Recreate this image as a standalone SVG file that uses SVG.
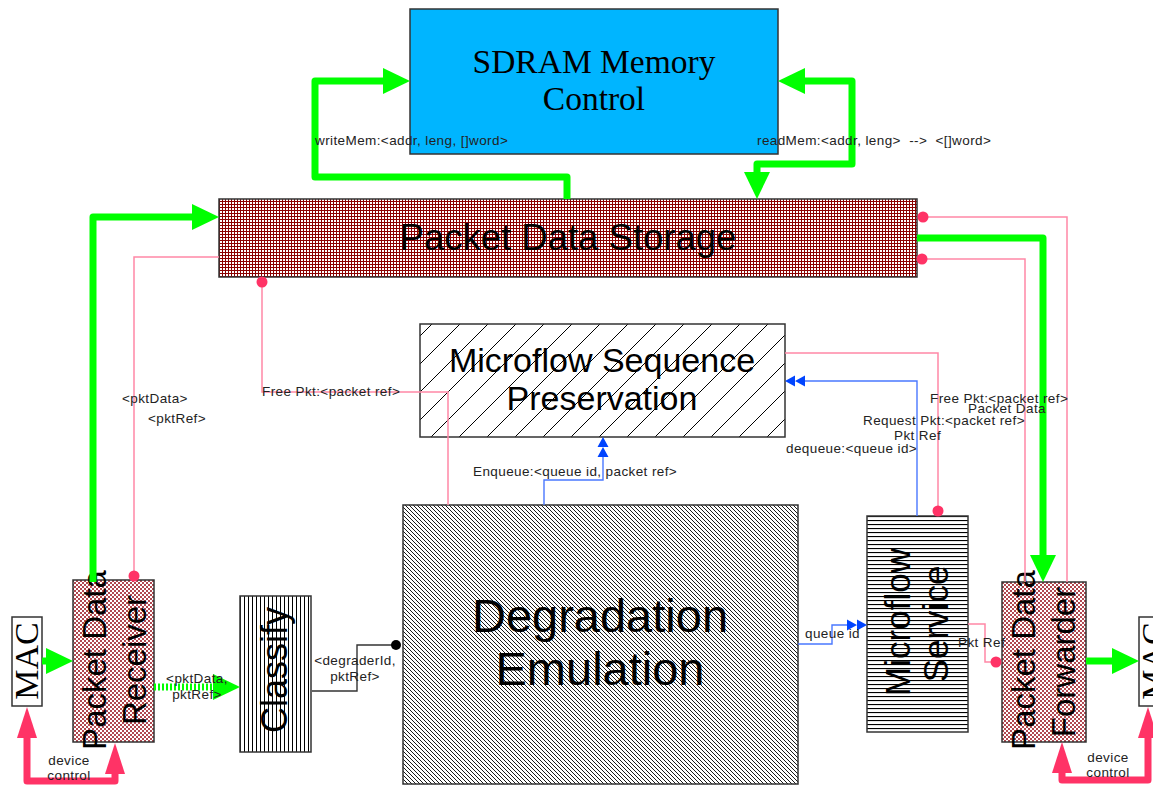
<svg xmlns="http://www.w3.org/2000/svg" width="1153" height="786" viewBox="0 0 1153 786">
<style>
.box{stroke:#333;stroke-width:1.5}
.nt{font-family:"Liberation Sans",Arial,sans-serif;fill:#000}
.st{font-family:"Liberation Serif","Times New Roman",serif;fill:#000}
.lbl{font-family:"Liberation Sans",Arial,sans-serif;font-size:13.5px;letter-spacing:0.4px;fill:#222}
.g{fill:none;stroke:#00ff00;stroke-width:7;stroke-linejoin:round}
.pk{fill:none;stroke:#ff88a6;stroke-width:1.5}
.dot{fill:#ff3366}
.bl{fill:none;stroke:#4a78ff;stroke-width:1.4}
.dc{fill:none;stroke:#ff3366;stroke-width:7;stroke-linejoin:round}
</style>
<defs>
<pattern id="pGrid" width="3" height="3" patternUnits="userSpaceOnUse">
<rect width="3" height="3" fill="#fff"/>
<path d="M0,0.5H3M0.5,0V3" stroke="#8b0000" stroke-width="1"/>
</pattern>
<pattern id="pCheck" width="4" height="4" patternUnits="userSpaceOnUse">
<rect width="4" height="4" fill="#fff"/>
<rect width="2" height="2" fill="#b04850"/>
<rect x="2" y="2" width="2" height="2" fill="#b04850"/>
</pattern>
<pattern id="pDiag" width="28" height="28" patternUnits="userSpaceOnUse">
<rect width="28" height="28" fill="#fff"/>
<path d="M0,28L28,0M-7,7L7,-7M21,35L35,21" stroke="#000" stroke-width="1"/>
</pattern>
<pattern id="pDense" width="4" height="4" patternUnits="userSpaceOnUse">
<rect width="4" height="4" fill="#fff"/>
<path d="M0,0L4,4M-1,3L1,5M3,-1L5,1" stroke="#000" stroke-width="0.9"/>
</pattern>
<pattern id="pVert" width="4" height="4" patternUnits="userSpaceOnUse">
<rect width="4" height="4" fill="#fff"/>
<path d="M0.5,0V4" stroke="#000" stroke-width="1"/>
</pattern>
<pattern id="pHorz" width="4" height="4" patternUnits="userSpaceOnUse">
<rect width="4" height="4" fill="#fff"/>
<path d="M0,0.5H4" stroke="#000" stroke-width="1.2"/>
</pattern>
<marker id="gArrow" markerUnits="userSpaceOnUse" markerWidth="30" markerHeight="30" refX="0" refY="13" orient="auto-start-reverse" overflow="visible">
<path d="M0,0L27,13L0,26z" fill="#00ff00"/>
</marker>
<marker id="pArrow" markerUnits="userSpaceOnUse" markerWidth="32" markerHeight="22" refX="0" refY="10" orient="auto-start-reverse" overflow="visible">
<path d="M0,0L31,10L0,20z" fill="#ff3366"/>
</marker>
<marker id="bArrow" markerUnits="userSpaceOnUse" markerWidth="22" markerHeight="12" refX="0" refY="5.5" orient="auto" overflow="visible">
<path d="M0,0L10,5.5L0,11zM10,0L20,5.5L10,11z" fill="#0044ff"/>
</marker>
</defs>
<rect width="1153" height="786" fill="#fff"/>

<g id="sdram">
<rect class="box" x="410" y="9" width="368" height="145" fill="#00b5ff"/>
<text class="st" font-size="33.5" text-anchor="middle" x="594" y="73">SDRAM Memory</text>
<text class="st" font-size="33.5" text-anchor="middle" x="594" y="110">Control</text>
</g>

<g id="storage">
<rect class="box" x="219" y="199" width="698" height="78" fill="url(#pGrid)"/>
<text class="nt" font-size="36.5" text-anchor="middle" x="568" y="250">Packet Data Storage</text>
</g>

<g id="msp">
<rect class="box" x="420" y="324" width="365" height="113" fill="url(#pDiag)"/>
<text class="nt" font-size="34" text-anchor="middle" x="602" y="372">Microflow Sequence</text>
<text class="nt" font-size="34" text-anchor="middle" x="602" y="410">Preservation</text>
</g>

<g id="degradation">
<rect class="box" x="403" y="505" width="395" height="279" fill="url(#pDense)"/>
<text class="nt" font-size="47" text-anchor="middle" x="600" y="632">Degradation</text>
<text class="nt" font-size="47" text-anchor="middle" x="600" y="685">Emulation</text>
</g>

<g id="classify">
<rect class="box" x="240" y="596" width="71" height="156" fill="url(#pVert)"/>
<text class="nt" font-size="36" text-anchor="middle" transform="translate(287,670) rotate(-90)">Classify</text>
</g>

<g id="microflow-service">
<rect class="box" x="867" y="516" width="101" height="216" fill="url(#pHorz)"/>
<text class="nt" font-size="35" text-anchor="middle" transform="translate(910,622) rotate(-90)">Microflow</text>
<text class="nt" font-size="35" text-anchor="middle" transform="translate(948,624) rotate(-90)">Service</text>
</g>

<g id="receiver">
<rect class="box" x="73" y="580" width="81" height="162" fill="url(#pCheck)"/>
<text class="nt" font-size="33" text-anchor="middle" transform="translate(106,660) rotate(-90)">Packet Data</text>
<text class="nt" font-size="33" text-anchor="middle" transform="translate(146,660) rotate(-90)">Receiver</text>
</g>

<g id="forwarder">
<rect class="box" x="1002" y="582" width="84" height="160" fill="url(#pCheck)"/>
<text class="nt" font-size="33" text-anchor="middle" transform="translate(1035,660) rotate(-90)">Packet Data</text>
<text class="nt" font-size="33" text-anchor="middle" transform="translate(1075,662) rotate(-90)">Forwarder</text>
</g>

<g id="mac-in">
<rect class="box" x="12" y="617" width="30" height="89" fill="#fff"/>
<text class="st" font-size="34" text-anchor="middle" transform="translate(38,661) rotate(-90)">MAC</text>
</g>

<g id="mac-out">
<rect class="box" x="1139" y="617" width="30" height="89" fill="#fff"/>
<text class="st" font-size="34" text-anchor="middle" transform="translate(1165,661) rotate(-90)">MAC</text>
</g>

<g id="connectors">
<path class="g" d="M567,199V177H315V81H383" marker-end="url(#gArrow)"/>
<path class="g" d="M805,81H852V164H757V172" marker-start="url(#gArrow)" marker-end="url(#gArrow)"/>
<path class="g" d="M93,582V217H192" marker-end="url(#gArrow)"/>
<path class="g" d="M917,238H1043V555" marker-end="url(#gArrow)"/>
<path class="g" d="M42,661H46" marker-end="url(#gArrow)"/>
<path class="g" d="M1086,661H1112" marker-end="url(#gArrow)"/>
<path class="g" d="M154,687H213" stroke-width="9" stroke-dasharray="2 2" marker-end="url(#gArrow)"/>

<path class="pk" d="M219,257H134V576"/>
<path class="pk" d="M262,282V392H448V505"/>
<path class="pk" d="M923,217H1067V582"/>
<path class="pk" d="M922,259H1025V582"/>
<path class="pk" d="M785,353H938V511"/>
<path class="pk" d="M968,624H985V662H996"/>
<circle class="dot" cx="134" cy="576" r="5.5"/>
<circle class="dot" cx="262" cy="282" r="5.5"/>
<circle class="dot" cx="923" cy="217" r="5.5"/>
<circle class="dot" cx="922" cy="259" r="5.5"/>
<circle class="dot" cx="938" cy="511" r="5.5"/>
<circle class="dot" cx="996" cy="662" r="5.5"/>

<path class="bl" d="M917,516V381H805" marker-end="url(#bArrow)"/>
<path class="bl" d="M544,505V480H603V457" marker-end="url(#bArrow)"/>
<path class="bl" d="M798,644H832V625H847" marker-end="url(#bArrow)"/>

<path d="M312,691H357V645H396" fill="none" stroke="#333" stroke-width="1.4"/>
<circle cx="396" cy="645" r="5" fill="#000"/>

<path class="dc" d="M27,738V781H115V774" marker-start="url(#pArrow)" marker-end="url(#pArrow)"/>
<path class="dc" d="M1062,773V780H1148V738" marker-start="url(#pArrow)" marker-end="url(#pArrow)"/>
</g>

<g id="labels">
<text class="lbl" x="315" y="145">writeMem:&lt;addr, leng, []word&gt;</text>
<text class="lbl" x="757" y="145" xml:space="preserve">readMem:&lt;addr, leng&gt;  --&gt;  &lt;[]word&gt;</text>
<text class="lbl" x="122" y="403">&lt;pktData&gt;</text>
<text class="lbl" x="148" y="423">&lt;pktRef&gt;</text>
<text class="lbl" x="262" y="396">Free Pkt:&lt;packet ref&gt;</text>
<text class="lbl" x="473" y="476">Enqueue:&lt;queue id, packet ref&gt;</text>
<text class="lbl" x="930" y="403">Free Pkt:&lt;packet ref&gt;</text>
<text class="lbl" x="968" y="413">Packet Data</text>
<text class="lbl" x="863" y="425">Request Pkt:&lt;packet ref&gt;</text>
<text class="lbl" x="894" y="440">Pkt Ref</text>
<text class="lbl" x="786" y="453">dequeue:&lt;queue id&gt;</text>
<text class="lbl" x="355" y="665" text-anchor="middle">&lt;degraderId,</text>
<text class="lbl" x="355" y="681" text-anchor="middle">pktRef&gt;</text>
<text class="lbl" x="197" y="683" text-anchor="middle">&lt;pktData,</text>
<text class="lbl" x="197" y="699" text-anchor="middle">pktRef&gt;</text>
<text class="lbl" x="805" y="638">queue id</text>
<text class="lbl" x="958" y="647">Pkt Ref</text>
<text class="lbl" x="69" y="765" text-anchor="middle">device</text>
<text class="lbl" x="69" y="780" text-anchor="middle">control</text>
<text class="lbl" x="1108" y="762" text-anchor="middle">device</text>
<text class="lbl" x="1108" y="777" text-anchor="middle">control</text>
</g>
</svg>
